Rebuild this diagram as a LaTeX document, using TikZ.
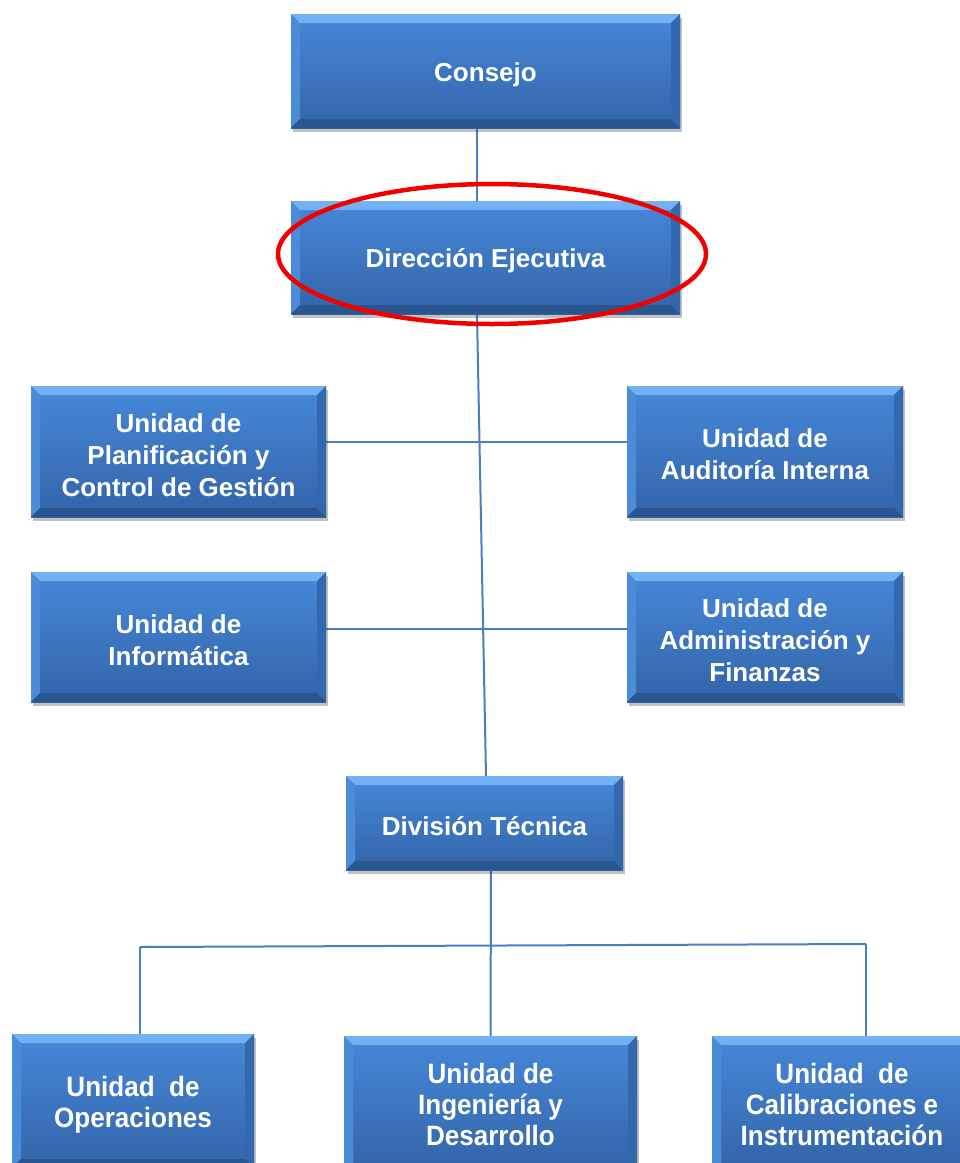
\documentclass[tikz,border=0pt]{standalone}
\usepackage{fontspec}
\setmainfont{Liberation Sans}
\newfontfamily\narrowfont[FakeStretch=0.93]{Liberation Sans}
\usetikzlibrary{shadows,backgrounds,shapes.geometric}
\definecolor{boxtop}{HTML}{4688D9}
\definecolor{boxbot}{HTML}{3364A8}
\definecolor{bevtop}{HTML}{72B1F4}
\definecolor{bevleft}{HTML}{4C8BD8}
\definecolor{bevright}{HTML}{3468AE}
\definecolor{bevbot}{HTML}{2A5690}
\definecolor{linec}{HTML}{4A7EBE}
\definecolor{ringred}{HTML}{F20000}
\newcommand\topstrut[1]{\rule{0pt}{#1}}
\tikzset{
  orgbox/.style={rectangle, inner sep=0pt, text=white, align=center,
    font=\bfseries\fontsize{26}{32}\selectfont,
    top color=boxtop, bottom color=boxbot,
    drop shadow={shadow xshift=1.5pt, shadow yshift=-4pt, opacity=0.3, fill=black!80},
    path picture={
      \fill[bevtop] (path picture bounding box.north west) -- (path picture bounding box.north east)
        -- ([shift={(-9pt,-9pt)}]path picture bounding box.north east)
        -- ([shift={(9pt,-9pt)}]path picture bounding box.north west) -- cycle;
      \fill[bevleft] (path picture bounding box.north west) -- ([shift={(9pt,-9pt)}]path picture bounding box.north west)
        -- ([shift={(9pt,9pt)}]path picture bounding box.south west) -- (path picture bounding box.south west) -- cycle;
      \fill[bevright] (path picture bounding box.north east) -- ([shift={(-9pt,-9pt)}]path picture bounding box.north east)
        -- ([shift={(-9pt,9pt)}]path picture bounding box.south east) -- (path picture bounding box.south east) -- cycle;
      \fill[bevbot] (path picture bounding box.south west) -- (path picture bounding box.south east)
        -- ([shift={(-9pt,9pt)}]path picture bounding box.south east)
        -- ([shift={(9pt,9pt)}]path picture bounding box.south west) -- cycle;
    }},
  lowbox/.style={orgbox, font=\narrowfont\bfseries\fontsize{28}{31}\selectfont},
  conn/.style={draw=linec, line width=2pt},
  ring/.style={draw=ringred, line width=4.5pt}
}
\begin{document}
\begin{tikzpicture}[x=1pt,y=-1pt]
\useasboundingbox (0,0) rectangle (960,1163);
\clip (0,0) rectangle (960,1163);
\node[orgbox, minimum width=389pt, minimum height=114pt] (cons) at (485.5,71) {\topstrut{25.5pt}Consejo};
\node[orgbox, minimum width=389pt, minimum height=113pt] (dir) at (485.5,257.5) {\topstrut{25.5pt}Dirección Ejecutiva};
\node[orgbox, minimum width=295pt, minimum height=131pt] (pl) at (178.5,451.5) {\topstrut{25.5pt}Unidad de\\Planificación y\\Control de Gestión};
\node[orgbox, minimum width=276pt, minimum height=131pt] (au) at (765,451.5) {\topstrut{25pt}Unidad de\\Auditoría Interna};
\node[orgbox, minimum width=295pt, minimum height=130pt] (inf) at (178.5,637) {\topstrut{25pt}Unidad de\\Informática};
\node[orgbox, minimum width=276pt, minimum height=130pt] (adm) at (765,637) {\topstrut{25pt}Unidad de\\Administración y\\Finanzas};
\node[orgbox, minimum width=277pt, minimum height=94pt] (div) at (484.5,823) {\topstrut{25.5pt}División Técnica};
\node[lowbox, minimum width=242pt, minimum height=134pt] (op) at (133,1101) {\topstrut{27pt}Unidad~~de\\Operaciones};
\node[lowbox, minimum width=293pt, minimum height=136pt] (ing) at (490.5,1104) {Unidad de\\Ingeniería y\\Desarrollo};
\node[lowbox, minimum width=260pt, minimum height=136pt] (cal) at (842,1104) {Unidad~~de\\Calibraciones e\\Instrumentación};
\coordinate (bl) at (140,947);
\coordinate (br) at (866,944);
\begin{pgfonlayer}{background}
\draw[conn] ([xshift=-8.5pt]cons.south) -- ([xshift=-8.5pt]dir.north);
\draw[conn] ([xshift=-8.5pt]dir.south) -- ([xshift=1.5pt]div.north);
\draw[conn] ([yshift=9.5pt]pl.east) -- ([yshift=9.5pt]au.west);
\draw[conn] ([yshift=8pt]inf.east) -- ([yshift=8pt]adm.west);
\draw[conn] ([xshift=6.5pt]div.south) -- (ing.north);
\draw[conn] (bl) -- (br);
\draw[conn] (bl) -- ([xshift=7pt]op.north);
\draw[conn] (br) -- ([xshift=24pt]cal.north);
\end{pgfonlayer}
\node[ring, ellipse, minimum width=428pt, minimum height=140pt, inner sep=0pt] (ov) at (492,254) {};
\end{tikzpicture}
\end{document}
